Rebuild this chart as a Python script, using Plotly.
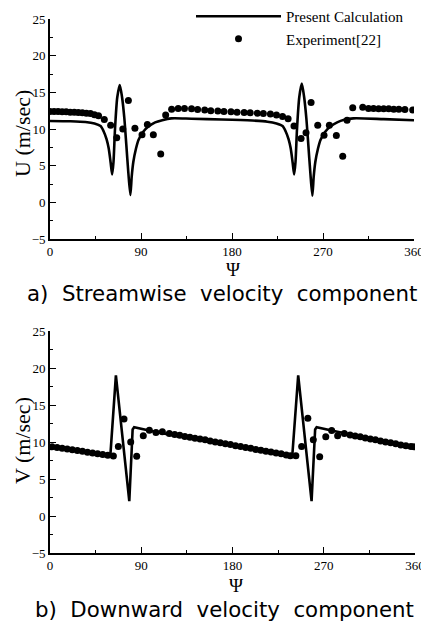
import plotly.graph_objects as go

# ---------------- data ----------------
psi_calc_u = [0, 20, 35, 44, 50, 53, 56, 58, 60, 61.5, 62.8, 64.3, 66.5, 69, 71.3, 73.5, 75.5, 77.5, 79.5,
              80.8, 82.4, 85, 87.5, 92, 97, 104, 111, 120, 140, 170, 200, 215, 224, 230, 233, 236, 238, 240,
              241.5, 242.8, 244.3, 246.5, 249, 251.3, 253.5, 255.5, 257.5, 259.5, 260.8, 262.4, 265, 267.5,
              272, 277, 284, 291, 300, 330, 360]
u_calc = [11.1, 11.05, 10.95, 10.75, 10.4, 9.7, 8.6, 7.4, 5.4, 3.8, 5.5, 10.0, 14.3, 16.0, 14.3, 11.5, 7.8, 4.0, 1.0,
          3.5, 5.5, 7.3, 8.5, 9.6, 10.3, 10.9, 11.2, 11.45, 11.4, 11.3, 11.15, 11.0, 10.75, 10.4, 9.7, 8.6, 7.4, 5.4,
          3.8, 5.5, 10.0, 14.3, 16.2, 14.4, 11.5, 7.8, 4.0, 0.9, 3.5, 5.5, 7.3, 8.5,
          9.6, 10.3, 10.9, 11.25, 11.45, 11.35, 11.2]

psi_exp_u = [0, 4, 8, 12, 16, 20, 24, 28, 32, 36, 40, 44, 48, 53.7, 60, 66, 72, 77.5, 84, 91, 96.3, 102.2, 109.5,
             114.4, 120.3, 126.8, 133, 140, 146, 153, 159, 166, 172, 179, 185, 192, 198, 205, 211, 218, 224, 230,
             235.5, 241.3, 248.3, 253.2, 258.2, 264.8, 271, 276.3, 283.2, 289.5, 293.8, 299.4, 309.3, 315, 320,
             325, 330, 335, 340, 345, 351, 358.7]
u_exp = [12.4, 12.4, 12.4, 12.35, 12.35, 12.3, 12.3, 12.25, 12.2, 12.15, 12.1, 11.95, 11.8, 11.3, 10.5, 8.8, 10.0,
         13.9, 10.1, 9.2, 10.6, 9.2, 6.6, 11.9, 12.7, 12.8, 12.8, 12.75, 12.65, 12.6, 12.5, 12.45, 12.4, 12.35,
         12.3, 12.25, 12.2, 12.15, 12.1, 12.05, 11.9, 11.7, 11.4, 10.4, 8.7, 9.5, 13.6, 10.5, 9.15, 10.5, 9.1,
         6.3, 11.2, 12.9, 12.95, 12.8, 12.8, 12.75, 12.75, 12.75, 12.7, 12.7, 12.65, 12.6]

psi_calc_v = [0, 59.5, 65, 78.2, 81.5, 83, 100, 118, 180, 239, 244.8, 258, 261.5, 263, 280, 300, 360]
v_calc = [9.4, 8.15, 19.0, 2.0, 11.7, 12.0, 11.5, 11.0, 9.6, 8.2, 19.0, 2.0, 11.7, 12.0, 11.5, 10.9, 9.4]

psi_exp_v = [2, 7, 12, 17, 22, 27, 32, 37, 42, 47, 52, 57, 62.5, 67.4, 73, 79.6, 85.5, 92, 98, 104.5, 110.8,
             117.7, 123, 128, 133, 138, 143, 148, 153, 158, 163, 168, 173, 178, 183, 188, 193, 198, 203, 208,
             213, 218, 223, 228, 233, 237, 242.5, 248.2, 254.3, 259.7, 266, 272, 277.8, 283.7, 290.3, 296, 301,
             306, 311, 316, 321, 326, 331, 336, 341, 346, 351, 356, 359]
v_exp = [9.35, 9.25, 9.15, 9.05, 8.95, 8.85, 8.75, 8.6, 8.5, 8.4, 8.3, 8.2, 8.1, 9.4, 13.1, 10.0, 8.07, 10.85,
         11.6, 11.3, 11.4, 11.15, 11.0, 10.9, 10.75, 10.65, 10.5, 10.4, 10.3, 10.15, 10.0, 9.9, 9.75, 9.65, 9.5,
         9.4, 9.25, 9.15, 9.0, 8.9, 8.75, 8.65, 8.5, 8.4, 8.25, 8.15, 8.15, 9.4, 13.2, 10.3, 8.0, 10.7, 11.55,
         10.85, 11.15, 10.95, 10.8, 10.7, 10.55, 10.4, 10.3, 10.15, 10.0, 9.9, 9.75, 9.6, 9.5, 9.4, 9.35]

x_ticks = [0, 90, 180, 270, 360]
y_ticks = [-5, 0, 5, 10, 15, 20, 25]

# ---------------- figure ----------------
OFF = 8                      # default page body margin
W, H = 429 - OFF, 629 - OFF
SERIF = "Liberation Serif, Times New Roman, serif"
SANS = "DejaVu Sans, Liberation Sans, sans-serif"


def PX(px):
    return (px - OFF) / W


def PY(py):
    return 1 - (py - OFF) / H


fig = go.Figure()
line_style = dict(color="black", width=2.6)
mk_style = dict(color="black", size=7, symbol="circle")

fig.add_trace(go.Scatter(x=psi_calc_u, y=u_calc, mode="lines", line=dict(**line_style, shape="spline", smoothing=0.7),
                         name="Present Calculation", xaxis="x", yaxis="y", legendrank=1))
fig.add_trace(go.Scatter(x=psi_exp_u, y=u_exp, mode="markers", marker=mk_style,
                         name="Experiment[22]", xaxis="x", yaxis="y", legendrank=2))
fig.add_trace(go.Scatter(x=psi_calc_v, y=v_calc, mode="lines", line=line_style,
                         name="Present Calculation", xaxis="x2", yaxis="y2", showlegend=False))
fig.add_trace(go.Scatter(x=psi_exp_v, y=v_exp, mode="markers", marker=mk_style,
                         name="Experiment[22]", xaxis="x2", yaxis="y2", showlegend=False))


def xax(domain, anchor):
    return dict(domain=domain, anchor=anchor, range=[0, 360], tickvals=x_ticks, automargin=False,
                showline=True, linecolor="black", linewidth=1.6, mirror=False,
                ticks="inside", ticklen=6, tickwidth=1.2, tickcolor="black",
                minor=dict(dtick=45, ticks="inside", ticklen=3, tickcolor="black"),
                showgrid=False, zeroline=False,
                tickfont=dict(family=SERIF, size=13, color="black"))


def yax(domain, anchor):
    return dict(domain=domain, anchor=anchor, range=[-5, 25], tickvals=y_ticks, automargin=False,
                showline=True, linecolor="black", linewidth=1.6, mirror=False,
                ticks="inside", ticklen=6, tickwidth=1.2, tickcolor="black",
                minor=dict(dtick=2.5, ticks="inside", ticklen=3, tickcolor="black"),
                showgrid=False, zeroline=False,
                tickfont=dict(family=SERIF, size=13, color="black"))


def txt(text, x, y, font, size, angle=0):
    return dict(text=text, x=PX(x), y=PY(y), xref="paper", yref="paper", showarrow=False,
                xanchor="center", yanchor="middle", textangle=angle,
                font=dict(family=font, size=size, color="black"))


fig.update_layout(
    width=W, height=H,
    margin=dict(l=0, r=0, t=0, b=0, autoexpand=False),
    paper_bgcolor="white", plot_bgcolor="white",
    xaxis=xax([PX(50), PX(414)], "y"),
    yaxis=yax([PY(239), PY(19)], "x"),
    xaxis2=xax([PX(50), PX(415)], "y2"),
    yaxis2=yax([PY(553), PY(331)], "x2"),
    showlegend=True,
    legend=dict(x=PX(191), y=PY(0), xanchor="left", yanchor="top", itemwidth=85,
                bgcolor="rgba(0,0,0,0)", tracegroupgap=0,
                font=dict(family=SERIF, size=15, color="black")),
    annotations=[
        txt("U (m/sec)", 22, 134, SERIF, 22, -90),
        txt("Ψ", 233, 269, SERIF, 19),
        txt("V (m/sec)", 22, 441, SERIF, 22, -90),
        txt("Ψ", 236, 585, SERIF, 19),
        txt("a)\u00a0\u00a0Streamwise\u00a0\u00a0velocity\u00a0\u00a0component", 222, 293, SANS, 21.3),
        txt("b)\u00a0\u00a0Downward\u00a0\u00a0velocity\u00a0\u00a0component", 224, 609, SANS, 21.3),
    ],
)

fig.write_html("out.html")
